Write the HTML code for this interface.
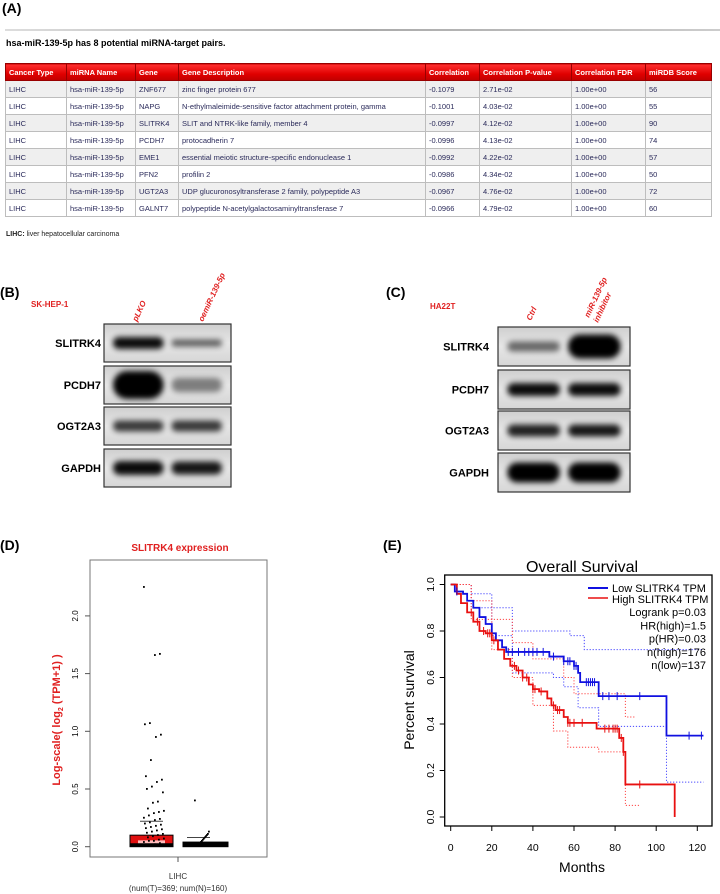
<!DOCTYPE html>
<html><head><meta charset="utf-8">
<style>
body{margin:0;width:720px;height:894px;background:#fff;position:relative;overflow:hidden;font-family:"Liberation Sans",sans-serif}
.abs{position:absolute}
table.t{position:absolute;left:5px;top:63px;border-collapse:collapse;font-size:7.5px;color:#2a2a5a;table-layout:fixed}
table.t td,table.t th{border:1px solid #bdbdbd;padding:0 3px;height:16px;white-space:nowrap;overflow:hidden;text-align:left}
table.t th{background:linear-gradient(#ff3030,#e00000 60%,#c00000);color:#fff;font-weight:bold;height:16px;border-color:#900}
table.t tr:nth-child(even) td{background:#efefef}
</style></head>
<body>
<div class="abs" style="left:2px;top:0px;font-size:14px;font-weight:bold">(A)</div>
<div class="abs" style="left:5px;top:29px;width:715px;height:2px;background:linear-gradient(90deg,#ddd,#aaa,#ccc)"></div>
<div class="abs" style="left:6px;top:38px;font-size:9px;font-weight:bold">hsa-miR-139-5p has 8 potential miRNA-target pairs.</div>
<table class="t">
<colgroup><col style="width:61px"><col style="width:69px"><col style="width:43px"><col style="width:247px"><col style="width:54px"><col style="width:92px"><col style="width:74px"><col style="width:66px"></colgroup>
<tr><th>Cancer Type</th><th>miRNA Name</th><th>Gene</th><th>Gene Description</th><th>Correlation</th><th>Correlation P-value</th><th>Correlation FDR</th><th>miRDB Score</th></tr>
<tr><td>LIHC</td><td>hsa-miR-139-5p</td><td>ZNF677</td><td>zinc finger protein 677</td><td>-0.1079</td><td>2.71e-02</td><td>1.00e+00</td><td>56</td></tr>
<tr><td>LIHC</td><td>hsa-miR-139-5p</td><td>NAPG</td><td>N-ethylmaleimide-sensitive factor attachment protein, gamma</td><td>-0.1001</td><td>4.03e-02</td><td>1.00e+00</td><td>55</td></tr>
<tr><td>LIHC</td><td>hsa-miR-139-5p</td><td>SLITRK4</td><td>SLIT and NTRK-like family, member 4</td><td>-0.0997</td><td>4.12e-02</td><td>1.00e+00</td><td>90</td></tr>
<tr><td>LIHC</td><td>hsa-miR-139-5p</td><td>PCDH7</td><td>protocadherin 7</td><td>-0.0996</td><td>4.13e-02</td><td>1.00e+00</td><td>74</td></tr>
<tr><td>LIHC</td><td>hsa-miR-139-5p</td><td>EME1</td><td>essential meiotic structure-specific endonuclease 1</td><td>-0.0992</td><td>4.22e-02</td><td>1.00e+00</td><td>57</td></tr>
<tr><td>LIHC</td><td>hsa-miR-139-5p</td><td>PFN2</td><td>profilin 2</td><td>-0.0986</td><td>4.34e-02</td><td>1.00e+00</td><td>50</td></tr>
<tr><td>LIHC</td><td>hsa-miR-139-5p</td><td>UGT2A3</td><td>UDP glucuronosyltransferase 2 family, polypeptide A3</td><td>-0.0967</td><td>4.76e-02</td><td>1.00e+00</td><td>72</td></tr>
<tr><td>LIHC</td><td>hsa-miR-139-5p</td><td>GALNT7</td><td>polypeptide N-acetylgalactosaminyltransferase 7</td><td>-0.0966</td><td>4.79e-02</td><td>1.00e+00</td><td>60</td></tr>
</table>
<div class="abs" style="left:6px;top:231px;font-size:7px;color:#222"><b>LIHC:</b> liver hepatocellular carcinoma</div>

<svg class="abs" style="left:0;top:0" width="720" height="894" font-family="Liberation Sans, sans-serif">
<defs>
<filter id="bl" x="-30%" y="-80%" width="160%" height="260%"><feGaussianBlur stdDeviation="3"/></filter>
<linearGradient id="bg" x1="0" y1="0" x2="0" y2="1"><stop offset="0" stop-color="#cfcfcf"/><stop offset="0.5" stop-color="#e6e6e6"/><stop offset="1" stop-color="#d6d6d6"/></linearGradient>
</defs>
<text x="0" y="297" font-size="14" font-weight="bold">(B)</text>
<text x="386" y="297" font-size="14" font-weight="bold">(C)</text>
<text x="31" y="307" font-size="8" font-weight="bold" fill="#e02020">SK-HEP-1</text>
<text x="430" y="309" font-size="8" font-weight="bold" fill="#e02020">HA22T</text>
<text transform="translate(137,322) rotate(-65)" font-size="8" font-style="italic" font-weight="bold" fill="#e02020">pLKO</text>
<text transform="translate(203,322) rotate(-65)" font-size="8" font-style="italic" font-weight="bold" fill="#e02020">oemiR-139-5p</text>
<text transform="translate(531,321) rotate(-65)" font-size="8" font-style="italic" font-weight="bold" fill="#e02020">Ctrl</text>
<text transform="translate(589,318) rotate(-65)" font-size="8" font-style="italic" font-weight="bold" fill="#e02020">miR-139-5p</text>
<text transform="translate(598,323) rotate(-65)" font-size="8" font-style="italic" font-weight="bold" fill="#e02020">inhibitor</text>
<g id="blots"></g>

<text x="0" y="550" font-size="14" font-weight="bold">(D)</text>
<text x="180" y="551" font-size="10" font-weight="bold" fill="#e02020" text-anchor="middle">SLITRK4 expression</text>
<g id="chartD"></g>
<text x="383" y="550" font-size="14" font-weight="bold">(E)</text>
<text x="582" y="572" font-size="16" text-anchor="middle">Overall Survival</text>
<g id="chartE"></g>
</svg>

<script>
var NS='http://www.w3.org/2000/svg';
function mk(p,tag,a){var e=document.createElementNS(NS,tag);for(var k in a)e.setAttribute(k,a[k]);p.appendChild(e);return e;}

var blotLabels=['SLITRK4','PCDH7','OGT2A3','GAPDH'];
var bIntensity=[[0.95,0.6],[1.0,0.45],[0.75,0.75],[0.95,0.9]];
var cIntensity=[[0.55,1.0],[0.95,0.95],[0.85,0.9],[1.0,1.0]];
var bThick=[[12,7],[28,14],[11,11],[14,13]];
var cThick=[[10,24],[13,13],[12,12],[20,20]];
var gB=document.getElementById('blots');
function drawBlot(x0,w,tops,h,labels,inten,thick,labelX,panel){
  for(var i=0;i<labels.length;i++){
    var y=tops[i];
    var g=mk(gB,'g',{});
    
    
    mk(g,'rect',{x:x0,y:y,width:w,height:h,fill:'url(#bg)',stroke:'#333','stroke-width':1.2});
    for(var l=0;l<2;l++){
      var a=inten[i][l],t=thick[i][l];
      var cx=x0+w*(l==0?0.27:0.73);
      var b=mk(g,'rect',{x:cx-w*0.2,y:y+h/2-t/2,width:w*0.4,height:t,rx:t/2,fill:'#000',opacity:a,filter:'url(#bl)'});
      
      
    }
    var tx=mk(g,'text',{x:labelX,y:y+h/2+4,'font-size':11,'font-weight':'bold','text-anchor':'end'});
    tx.textContent=labels[i];
  }
}
drawBlot(104,127,[324,366,407,449],38,blotLabels,bIntensity,bThick,101,'b');
drawBlot(498,132,[327,370,411,453],39,blotLabels,cIntensity,cThick,489,'c');

var dTicks=[0,0.5,1.0,1.5,2.0];
var tumorBoxTop=0.1, normalBoxTop=0.04;
var tumorMedianLine=0.22, normalMedianLine=0.08;
var tumorPoints=[2.25,1.67,1.66,1.07,1.06,0.97,0.95,0.75,0.61,0.58,0.56,0.52,0.5,0.47,0.39,0.38,0.33,0.31,0.3,0.29,0.27,0.25,0.24,0.23,0.21,0.2,0.19,0.18,0.17,0.16,0.15,0.14,0.13,0.12,0.11,0.1,0.09,0.08,0.07,0.06,0.05,0.05,0.04,0.03,0.02];
var normalPoints=[0.4,0.13,0.11,0.1,0.09,0.08,0.07,0.06,0.05,0.04,0.03];
var gD=document.getElementById('chartD');
var dL=90,dR=267,dT=560,dB=857;
function yD(v){return 846.7-v*115.4;}
var fr=mk(gD,'rect',{x:dL,y:dT,width:dR-dL,height:dB-dT,fill:'none',stroke:'#777','stroke-width':1});

dTicks.forEach(function(v){
  mk(gD,'line',{x1:dL-5,x2:dL,y1:yD(v),y2:yD(v),stroke:'#555'});
  var t=mk(gD,'text',{transform:'translate(78,'+yD(v)+') rotate(-90)','font-size':8,'text-anchor':'middle'});
  
  t.textContent=v.toFixed(1);
});
var yl=mk(gD,'text',{transform:'translate(60,720) rotate(-90)','font-size':11,'font-weight':'bold',fill:'#e02020','text-anchor':'middle'});

yl.innerHTML='Log-scale( log<tspan font-size="7" dy="3">2</tspan><tspan dy="-3"> (TPM+1) )</tspan>';
mk(gD,'line',{x1:178,x2:178,y1:dB,y2:dB+5,stroke:'#555'});
var xl=mk(gD,'text',{x:178,y:879,'font-size':8,'text-anchor':'middle',fill:'#333'});xl.textContent='LIHC';

var xl2=mk(gD,'text',{x:178,y:891,'font-size':8,'text-anchor':'middle',fill:'#333'});xl2.textContent='(num(T)=369; num(N)=160)';

var tb=mk(gD,'rect',{x:130,y:yD(tumorBoxTop),width:43,height:yD(0)-yD(tumorBoxTop),fill:'#e01010',stroke:'#000','stroke-width':1});

mk(gD,'rect',{x:138,y:yD(tumorBoxTop*0.55),width:27,height:yD(0)-yD(tumorBoxTop*0.55)-3,fill:'#fbb'});
mk(gD,'rect',{x:130,y:yD(0.03),width:43,height:yD(0)-yD(0.03),fill:'#000'});
var nb=mk(gD,'rect',{x:183,y:yD(normalBoxTop),width:45,height:yD(0)-yD(normalBoxTop),fill:'#000',stroke:'#000'});

mk(gD,'line',{x1:140,x2:163,y1:yD(tumorMedianLine),y2:yD(tumorMedianLine),stroke:'#444'});
mk(gD,'line',{x1:187,x2:210,y1:yD(normalMedianLine),y2:yD(normalMedianLine),stroke:'#444'});
tumorPoints.forEach(function(v,i){
  var c=mk(gD,'rect',{x:144+((i*37)%21)-1,y:yD(v)-1,width:1.8,height:1.8,fill:'#000'});
  
});
normalPoints.forEach(function(v,i){
  var c=mk(gD,'rect',{x:201+((i*29)%15)-7,y:yD(v)-1,width:1.8,height:1.8,fill:'#000'});
  
});

var xTicks=[0,20,40,60,80,100,120];
var yTicks=[0,0.2,0.4,0.6,0.8,1.0];
var lowT=[0,2,6,8,11,14,17,20,22,25,27,48,55,60,62,63,72,105,123];
var lowS=[1,0.97,0.96,0.93,0.9,0.86,0.83,0.79,0.76,0.73,0.71,0.69,0.67,0.65,0.62,0.58,0.52,0.35,0.35];
var highT=[0,3,5,8,11,14,17,20,23,26,29,32,35,38,40,43,47,49,51,55,57,71,82,84,85,109,109];
var highS=[1,0.96,0.92,0.88,0.84,0.8,0.79,0.76,0.72,0.68,0.65,0.63,0.6,0.57,0.55,0.54,0.51,0.48,0.46,0.43,0.405,0.38,0.34,0.28,0.14,0.14,0];
var lowUpT=[0,10,20,30,58,65,105,123];
var lowUpS=[1,0.96,0.9,0.8,0.78,0.72,0.72,0.72];
var lowLoT=[0,10,20,30,50,55,62,72,105,123];
var lowLoS=[1,0.9,0.78,0.62,0.6,0.56,0.47,0.39,0.15,0.15];
var highUpT=[0,10,20,30,40,55,60,80,85,90];
var highUpS=[1,0.93,0.85,0.75,0.68,0.6,0.53,0.53,0.43,0.43];
var highLoT=[0,10,20,30,40,50,57,72,84,85,92];
var highLoS=[1,0.85,0.72,0.6,0.48,0.37,0.3,0.28,0.28,0.05,0.05];
var lowCens=[3,28,30,33,36,38,40,42,45,50,55,57,58,60,61,66,67,68,69,70,74,77,81,92,116,122];
var highCens=[10,13,16,18,19,21,31,33,35,37,40,41,44,50,52,53,57,58,60,64,75,77,79,80,81,83,84,92];
var gE=document.getElementById('chartE');
var eL=450.7,eR=712,eT=575,eB=826;
function xE(t){return 450.7+t*2.055;}
function yE(s){return 817-s*232.5;}
var ef=mk(gE,'rect',{x:eL-6,y:eT,width:eR-eL+6,height:eB-eT,fill:'none',stroke:'#000','stroke-width':1.3});

xTicks.forEach(function(v){
  mk(gE,'line',{x1:xE(v),x2:xE(v),y1:eB,y2:eB+5,stroke:'#000'});
  var t=mk(gE,'text',{x:xE(v),y:851,'font-size':10.5,'text-anchor':'middle'});t.textContent=v;
  
});
yTicks.forEach(function(v){
  mk(gE,'line',{x1:eL-11,x2:eL-6,y1:yE(v),y2:yE(v),stroke:'#000'});
  var t=mk(gE,'text',{transform:'translate(434,'+yE(v)+') rotate(-90)','font-size':10.5,'text-anchor':'middle'});t.textContent=v.toFixed(1);
  
});
var xt=mk(gE,'text',{x:582,y:872,'font-size':14,'text-anchor':'middle'});xt.textContent='Months';

var yt=mk(gE,'text',{transform:'translate(414,700) rotate(-90)','font-size':14,'text-anchor':'middle'});yt.textContent='Percent survival';

function stepPath(T,S){var d='M'+xE(T[0])+','+yE(S[0]);for(var i=1;i<T.length;i++){d+=' H'+xE(T[i])+' V'+yE(S[i]);}return d;}
function survAt(T,S,t){var s=S[0];for(var i=0;i<T.length;i++){if(T[i]<=t)s=S[i];}return s;}
function ci(T,S,col,name){var p=mk(gE,'path',{d:stepPath(T,S),fill:'none',stroke:col,'stroke-width':1,'stroke-dasharray':'1.2,1.8'});}
ci(lowUpT,lowUpS,'#4444ff','low-ci-upper');ci(lowLoT,lowLoS,'#4444ff','low-ci-lower');
ci(highUpT,highUpS,'#ff4444','high-ci-upper');ci(highLoT,highLoS,'#ff4444','high-ci-lower');
var pl=mk(gE,'path',{d:stepPath(lowT,lowS),fill:'none',stroke:'#1010e0','stroke-width':1.8});

var ph=mk(gE,'path',{d:stepPath(highT,highS),fill:'none',stroke:'#e81010','stroke-width':1.8});

lowCens.forEach(function(t){var y=yE(survAt(lowT,lowS,t));var l=mk(gE,'line',{x1:xE(t),x2:xE(t),y1:y-4,y2:y+4,stroke:'#1010e0','stroke-width':1});});
highCens.forEach(function(t){var y=yE(survAt(highT,highS,t));var l=mk(gE,'line',{x1:xE(t),x2:xE(t),y1:y-4,y2:y+4,stroke:'#e81010','stroke-width':1});});
var lg=mk(gE,'g',{});
mk(lg,'line',{x1:588,x2:608,y1:588,y2:588,stroke:'#1010e0','stroke-width':2});
mk(lg,'line',{x1:588,x2:608,y1:598,y2:598,stroke:'#e81010','stroke-width':1.5});
var legendTexts=['Low SLITRK4 TPM','High SLITRK4 TPM'];
legendTexts.forEach(function(s,i){var t=mk(lg,'text',{x:612,y:592+i*11,'font-size':11});t.textContent=s;});
var stats=['Logrank p=0.03','HR(high)=1.5','p(HR)=0.03','n(high)=176','n(low)=137'];
stats.forEach(function(s,i){var t=mk(lg,'text',{x:706,y:616+i*13.3,'font-size':11,'text-anchor':'end'});t.textContent=s;});
</script>
</body></html>
